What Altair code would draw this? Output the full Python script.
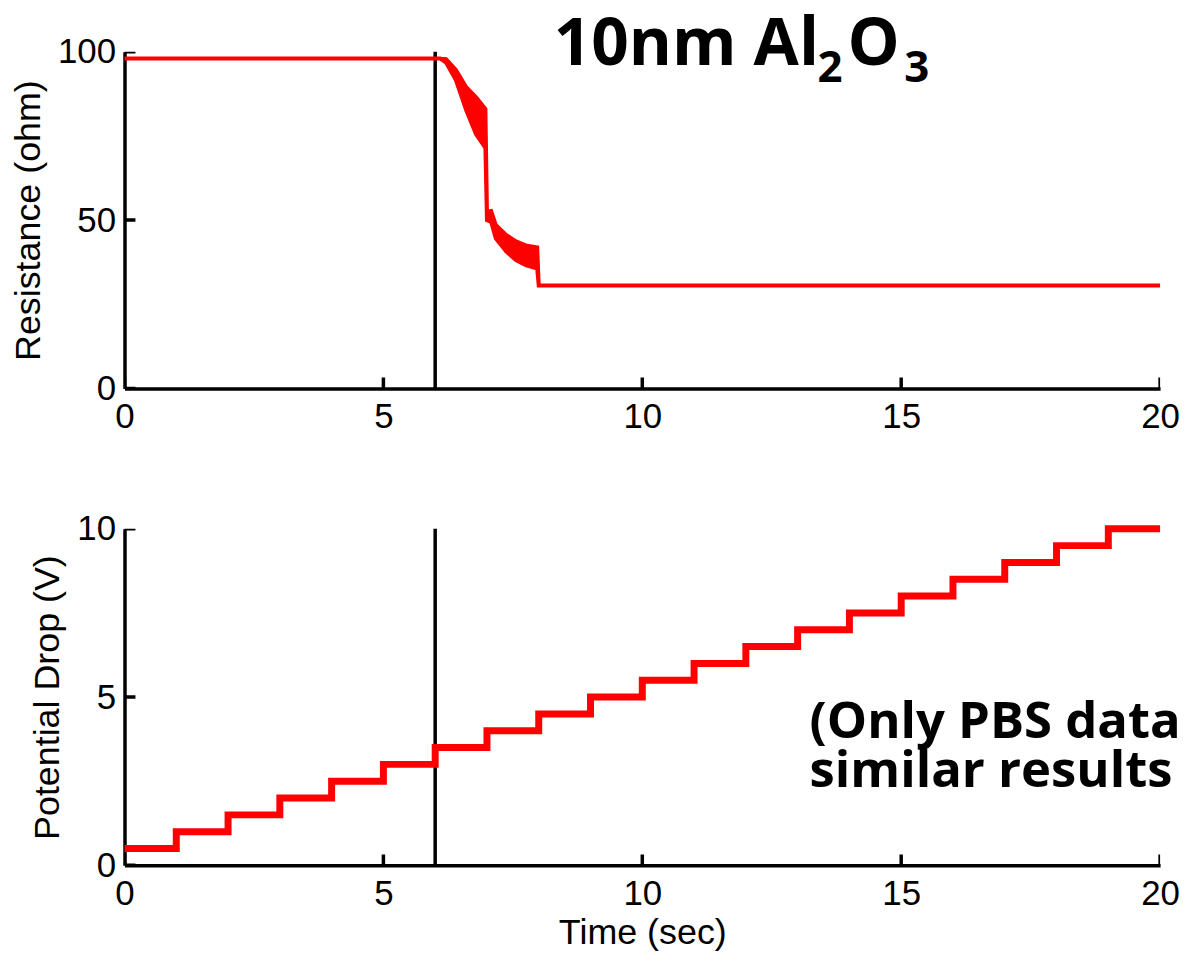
import altair as alt
import pandas as pd

# ---------------- data ----------------
res_time = [0, 6.0, 6.1, 6.21, 6.4, 6.6, 6.79, 6.97, 7.0, 7.08, 7.17, 7.37, 7.56, 7.75, 7.97, 8.0, 20]
res_upper = [98, 98, 98, 97.8, 94.6, 89.5, 86.5, 83.0, 52.5, 52.7, 48.6, 45.6, 43.7, 42.5, 41.9, 30.6, 30.6]
res_lower = [98, 98, 98, 96.8, 91.6, 82.6, 75.5, 71.5, 50.0, 49.5, 44.6, 40.7, 38.1, 36.6, 35.6, 30.6, 30.6]

pot_time = [0, 1, 2, 3, 4, 5, 6, 7, 8, 9, 10, 11, 12, 13, 14, 15, 16, 17, 18, 19, 20]
pot_value = [0.5, 1.0, 1.5, 2.0, 2.5, 3.0, 3.5, 4.0, 4.5, 5.0, 5.5, 6.0, 6.5, 7.0, 7.5,
             8.0, 8.5, 9.0, 9.5, 10.0, 10.0]

x_ticks = [0, 5, 10, 15, 20]
res_ticks = [0, 50, 100]
pot_ticks = [0, 5, 10]
marker_time = [6]

title_parts = ["10nm Al", "2", "O", "3"]
note_lines = ["(Only PBS data", "similar results"]

# ---------------- styling ----------------
W, H = 1040, 338
RED = "#ff0000"
LABEL_FONT = "Liberation Sans"
NOTE_FONT = "Open Sans"

xscale = alt.Scale(domain=[0, 20], nice=False, zero=False)


def x_axis(title):
    return alt.Axis(values=x_ticks, title=title, format="d", labelFlush=False)


res_df = pd.DataFrame({"t": res_time, "upper": res_upper, "lower": res_lower})
pot_df = pd.DataFrame({"t": pot_time, "v": pot_value})
mark_df = pd.DataFrame({"t": marker_time})


def tick_layers(y_ticks, yscale, yaxis, xaxis):
    ytk = alt.Chart(pd.DataFrame({"v": y_ticks})).mark_tick(
        orient="horizontal", size=22, thickness=3.5, color="black", opacity=1, clip=True
    ).encode(
        y=alt.Y("v:Q", scale=yscale, axis=yaxis),
        x=alt.datum(0),
    )
    xtk = alt.Chart(pd.DataFrame({"v": x_ticks})).mark_tick(
        orient="vertical", size=22, thickness=3.5, color="black", opacity=1, clip=True
    ).encode(
        x=alt.X("v:Q", scale=xscale, axis=xaxis),
        y=alt.datum(0),
    )
    return ytk, xtk


# ---------------- top panel ----------------
res_yscale = alt.Scale(domain=[0, 100], nice=False, zero=False)
res_yaxis = alt.Axis(values=res_ticks, title="Resistance (ohm)", format="d", labelFlush=False)
top_xaxis = x_axis(None)

top_rule = alt.Chart(mark_df).mark_rule(color="black", strokeWidth=3.5).encode(
    x=alt.X("t:Q", scale=xscale, axis=top_xaxis)
)
top_area = alt.Chart(res_df).mark_area(
    color=RED, stroke=RED, strokeWidth=4, opacity=1
).encode(
    x=alt.X("t:Q", scale=xscale, axis=top_xaxis),
    y=alt.Y("upper:Q", scale=res_yscale, axis=res_yaxis),
    y2="lower:Q",
)
ytk1, xtk1 = tick_layers(res_ticks, res_yscale, res_yaxis, top_xaxis)

title_specs = [
    (title_parts[0], 66, 431, 13),
    (title_parts[1], 44, 696, 30),
    (title_parts[2], 66, 726, 13),
    (title_parts[3], 44, 783, 30),
]
title_layers = [
    alt.Chart(pd.DataFrame({"s": [s]})).mark_text(
        font=NOTE_FONT, fontWeight="bold", fontSize=fs, align="left",
        baseline="alphabetic", color="black"
    ).encode(text="s:N", x=alt.value(xp), y=alt.value(yp))
    for s, fs, xp, yp in title_specs
]

top = alt.layer(top_rule, top_area, ytk1, xtk1, *title_layers).properties(width=W, height=H)

# ---------------- bottom panel ----------------
pot_yscale = alt.Scale(domain=[0, 10], nice=False, zero=False)
pot_yaxis = alt.Axis(values=pot_ticks, title="Potential Drop (V)", format="d", labelFlush=False)
bot_xaxis = x_axis("Time (sec)")

bot_rule = alt.Chart(mark_df).mark_rule(color="black", strokeWidth=3.5).encode(
    x=alt.X("t:Q", scale=xscale, axis=bot_xaxis)
)
bot_line = alt.Chart(pot_df).mark_line(
    color=RED, strokeWidth=7, interpolate="step-after"
).encode(
    x=alt.X("t:Q", scale=xscale, axis=bot_xaxis),
    y=alt.Y("v:Q", scale=pot_yscale, axis=pot_yaxis),
)
ytk2, xtk2 = tick_layers(pot_ticks, pot_yscale, pot_yaxis, bot_xaxis)

note_layer = alt.Chart(pd.DataFrame({"s": ["\n".join(note_lines)]})).mark_text(
    font=NOTE_FONT, fontWeight="bold", fontSize=51, align="left",
    baseline="alphabetic", color="black", lineBreak="\n", lineHeight=49,
    limit=376, ellipsis="\u200b"
).encode(text="s:N", x=alt.value(688), y=alt.value(210))

bottom = alt.layer(bot_rule, bot_line, ytk2, xtk2, note_layer).properties(width=W, height=H)

chart = alt.vconcat(top, bottom, spacing=78).properties(
    padding={"left": 2, "top": 2, "right": 0, "bottom": 0},
    background="white",
).configure_view(stroke=None).configure_axis(
    domainColor="black",
    domainWidth=3.5,
    grid=False,
    ticks=False,
    tickSize=0,
    labelFont=LABEL_FONT,
    labelFontSize=35,
    labelColor="black",
    labelPadding=9,
    labelFlush=False,
    titleFont=LABEL_FONT,
    titleFontSize=36,
    titleFontWeight="normal",
    titleColor="black",
    titlePadding=10,
).configure_axisX(labelPadding=11, titlePadding=4)

chart.save("out.html", embed_options={"renderer": "svg", "actions": False})
